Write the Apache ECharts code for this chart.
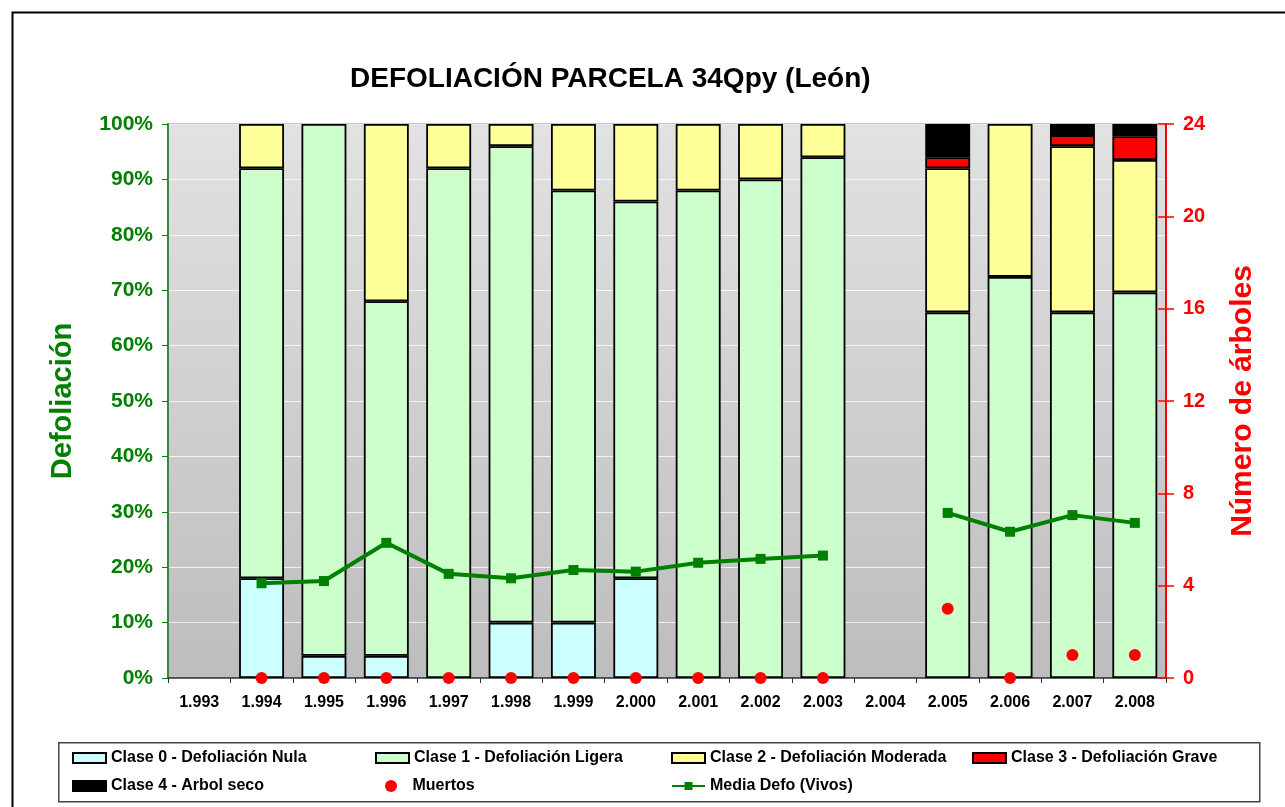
<!DOCTYPE html>
<html>
<head>
<meta charset="utf-8">
<script src="https://cdn.jsdelivr.net/npm/echarts@6/dist/echarts.min.js"></script>
<style>
  html, body { margin: 0; padding: 0; background: #fff; }
  #main { width: 1285px; height: 807px; }
</style>
</head>
<body>
<div id="main"></div>
<script>
// años de la parcela
const categories = ['1.993', '1.994', '1.995', '1.996', '1.997', '1.998', '1.999', '2.000',
  '2.001', '2.002', '2.003', '2.004', '2.005', '2.006', '2.007', '2.008'];

// % de árboles por clase de defoliación
const clase0 = [null, 18, 4, 4, 0, 10, 10, 18, 0, 0, 0, null, 0, 0, 0, 0];
const clase1 = [null, 74, 96, 64, 92, 86, 78, 68, 88, 90, 94, null, 66, 72.4, 66, 69.6];
const clase2 = [null, 8, 0, 32, 8, 4, 12, 14, 12, 10, 6, null, 26, 27.6, 30, 23.9];
const clase3 = [null, 0, 0, 0, 0, 0, 0, 0, 0, 0, 0, null, 2, 0, 2, 4.3];
const clase4 = [null, 0, 0, 0, 0, 0, 0, 0, 0, 0, 0, null, 6, 0, 2, 2.2];

// número de árboles muertos (eje derecho)
const muertos = [null, 0, 0, 0, 0, 0, 0, 0, 0, 0, 0, null, 3, 0, 1, 1];

// media de defoliación de los vivos (%)
const mediaDefo = [null, 17.1, 17.5, 24.4, 18.8, 18.0, 19.5, 19.2, 20.8, 21.5, 22.1, null, 29.8, 26.4, 29.4, 28.0];

const leftTicks = [0, 10, 20, 30, 40, 50, 60, 70, 80, 90, 100];
const rightTicks = [0, 4, 8, 12, 16, 20, 24];

const font = 'Liberation Sans, Arial, sans-serif';
const green = '#008000';
const red = '#ff0000';

const noZero = arr => arr.map(v => (v === 0 ? null : v));

function barSeries(name, data, color) {
  return {
    name: name,
    type: 'bar',
    stack: 'defo',
    barWidth: '72%',
    data: noZero(data),
    itemStyle: { color: color, borderColor: '#000', borderWidth: 1.8 },
    z: 2
  };
}

function legendItem(name, left, top, extra) {
  return Object.assign({
    data: [name],
    left: left,
    top: top,
    orient: 'horizontal',
    icon: 'rect',
    itemWidth: 33,
    itemHeight: 10,
    padding: 0,
    selectedMode: false,
    textStyle: { fontFamily: font, fontWeight: 'bold', fontSize: 16, color: '#000' }
  }, extra || {});
}

var chart = echarts.init(document.getElementById('main'));
var option = {
  backgroundColor: '#fff',
  animation: false,
  title: {
    text: 'DEFOLIACIÓN PARCELA 34Qpy (León)',
    left: 345,
    top: 60,
    textStyle: { fontFamily: font, fontWeight: 'bold', fontSize: 28, color: '#000' }
  },
  graphic: [
    {
      type: 'rect', left: 10, top: 10,
      shape: { width: 1300, height: 830 },
      style: { fill: 'none', stroke: '#000', lineWidth: 2 }, silent: true
    },
    {
      type: 'rect', left: 58, top: 742,
      shape: { width: 1201, height: 59 },
      style: { fill: '#fff', stroke: '#444', lineWidth: 1.5 }, silent: true, z: -1
    }
  ],
  legend: [
    legendItem('Clase 0 - Defoliación Nula', 72, 750),
    legendItem('Clase 1 - Defoliación Ligera', 375, 750),
    legendItem('Clase 2 - Defoliación Moderada', 671, 750),
    legendItem('Clase 3 - Defoliación Grave', 972, 750),
    legendItem('Clase 4 - Arbol seco', 72, 778),
    legendItem('Muertos', 385, 778, { icon: 'circle', itemHeight: 12 }),
    legendItem('Media Defo (Vivos)', 671, 778, { icon: null })
  ],
  grid: {
    left: 168,
    right: 119,
    top: 124,
    bottom: 129,
    show: true,
    borderColor: '#888',
    borderWidth: 1,
    backgroundColor: {
      type: 'linear', x: 0, y: 0, x2: 0, y2: 1,
      colorStops: [{ offset: 0, color: '#e2e2e2' }, { offset: 1, color: '#bdbdbd' }]
    }
  },
  xAxis: {
    type: 'category',
    data: categories,
    boundaryGap: true,
    axisLine: { lineStyle: { color: '#333', width: 1.5 } },
    axisTick: { show: true, interval: 0, alignWithLabel: false, length: 5, lineStyle: { color: '#333' } },
    axisLabel: { interval: 0, margin: 17, fontFamily: font, fontWeight: 'bold', fontSize: 16, color: '#000' }
  },
  yAxis: [
    {
      type: 'value',
      min: leftTicks[0],
      max: leftTicks[leftTicks.length - 1],
      interval: 10,
      position: 'left',
      name: 'Defoliación',
      nameLocation: 'middle',
      nameRotate: 90,
      nameGap: 91,
      nameTextStyle: { fontFamily: font, fontWeight: 'bold', fontSize: 29, color: green },
      axisLine: { show: true, lineStyle: { color: '#3a8a3a', width: 2 } },
      axisTick: { show: true, length: 6, lineStyle: { color: green } },
      axisLabel: { formatter: '{value}%', margin: 15, fontFamily: font, fontWeight: 'bold', fontSize: 21, color: green },
      splitLine: { show: true, lineStyle: { color: 'rgba(255,255,255,0.75)', width: 1 } }
    },
    {
      type: 'value',
      min: rightTicks[0],
      max: rightTicks[rightTicks.length - 1],
      interval: 4,
      position: 'right',
      name: 'Número de árboles',
      nameLocation: 'middle',
      nameRotate: 90,
      nameGap: 62,
      nameTextStyle: { fontFamily: font, fontWeight: 'bold', fontSize: 30, color: red },
      axisLine: { show: true, lineStyle: { color: red, width: 2 } },
      axisTick: { show: true, length: 8, lineStyle: { color: red, width: 1.5 } },
      axisLabel: { margin: 17, fontFamily: font, fontWeight: 'bold', fontSize: 20, color: red },
      splitLine: { show: false }
    },
    {
      // ticks interiores del eje derecho (marcas cruzadas)
      type: 'value',
      min: rightTicks[0],
      max: rightTicks[rightTicks.length - 1],
      interval: 4,
      position: 'right',
      axisLine: { show: false },
      axisTick: { show: true, inside: true, length: 8, lineStyle: { color: red, width: 1.5 } },
      axisLabel: { show: false },
      splitLine: { show: false }
    }
  ],
  series: [
    barSeries('Clase 0 - Defoliación Nula', clase0, '#ccffff'),
    barSeries('Clase 1 - Defoliación Ligera', clase1, '#ccffcc'),
    barSeries('Clase 2 - Defoliación Moderada', clase2, '#ffff99'),
    barSeries('Clase 3 - Defoliación Grave', clase3, '#ff0000'),
    barSeries('Clase 4 - Arbol seco', clase4, '#000000'),
    {
      name: 'Media Defo (Vivos)',
      type: 'line',
      data: mediaDefo,
      connectNulls: false,
      symbol: 'rect',
      symbolSize: 10,
      showAllSymbol: true,
      lineStyle: { color: green, width: 4 },
      itemStyle: { color: green },
      z: 5
    },
    {
      name: 'Muertos',
      type: 'scatter',
      yAxisIndex: 1,
      data: muertos,
      symbol: 'circle',
      symbolSize: 12,
      itemStyle: { color: red, opacity: 1 },
      clip: false,
      z: 6
    }
  ]
};
chart.setOption(option);
</script>
</body>
</html>
